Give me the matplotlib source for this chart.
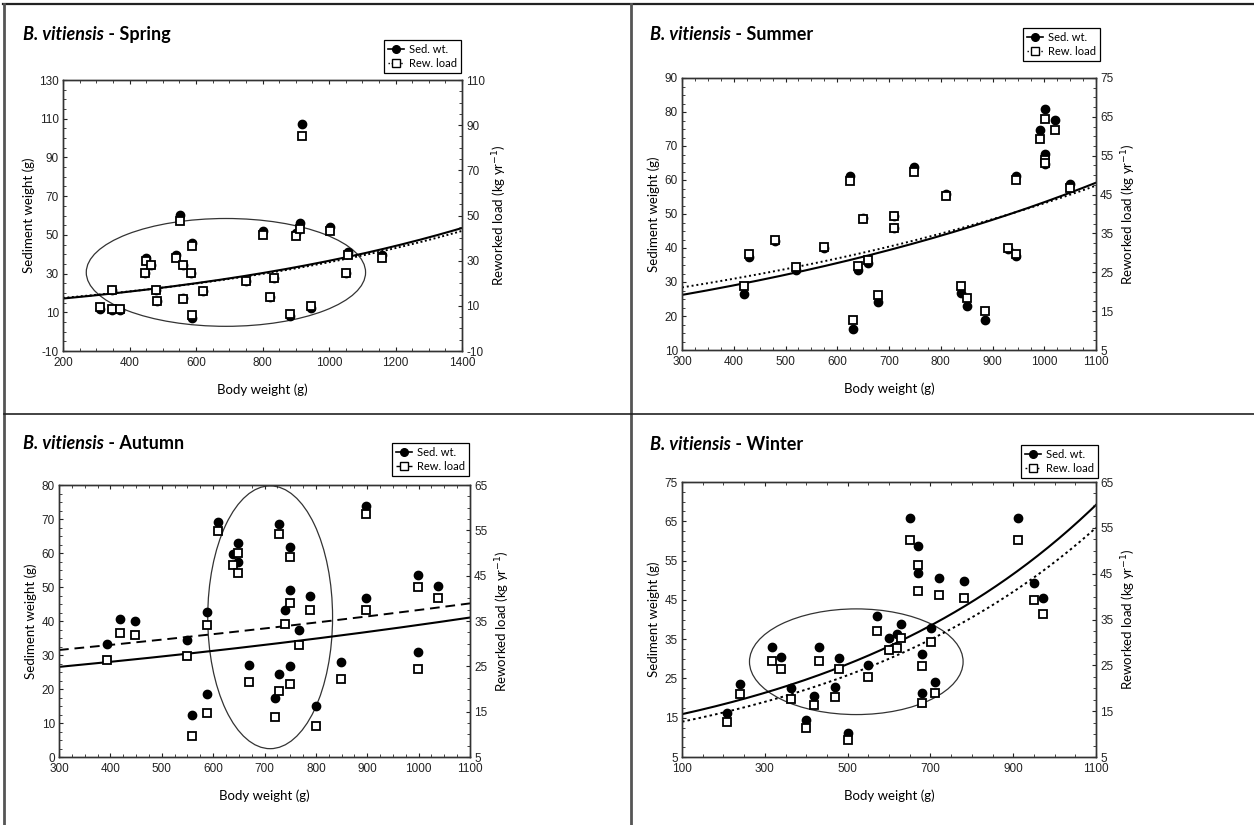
import numpy as np
import matplotlib
matplotlib.use("Agg")
import matplotlib.pyplot as plt
from matplotlib.lines import Line2D
from matplotlib.patches import Ellipse
from matplotlib.ticker import MultipleLocator, FixedLocator

plt.rcParams["font.family"] = ["Liberation Sans", "DejaVu Sans"]
plt.rcParams["axes.unicode_minus"] = False

W, H = 1254, 825
LABEL_FONT = "Lato"

# ---- Spring ----
spring_bw = [312, 348, 346, 370, 446, 451, 466, 481, 484, 541, 551, 561, 561, 586, 589,
             589, 621, 751, 800, 822, 835, 882, 902, 912, 920, 947, 1002, 1050, 1057, 1160]
spring_sed = [11.9, 21.4, 11.4, 11.4, 30.5, 37.8, 34.3, 21.7, 15.9, 39.5, 60.2, 34.3, 17.4, 30.5, 45.9,
              7.2, 21.0, 26.0, 52.1, 17.9, 27.9, 8.1, 51.2, 56.2, 107.2, 12.4, 54.1, 30.3, 40.9, 39.5]
spring_rew = [9.5, 16.9, 8.8, 8.8, 24.7, 29.8, 28.0, 17.2, 12.2, 31.4, 47.6, 28.0, 12.9, 24.7, 36.4,
              5.8, 16.6, 20.9, 41.3, 13.9, 22.5, 6.6, 40.8, 44.2, 85.2, 9.8, 43.1, 24.6, 32.4, 31.4]

# ---- Summer ----
summer_bw = [419, 429, 479, 520, 575, 624, 630, 641, 650, 660, 679, 710, 710, 749,
             810, 839, 850, 886, 930, 945, 945, 991, 1001, 1001, 1001, 1020, 1049]
summer_sed = [26.6, 37.4, 42.1, 33.5, 39.9, 61.1, 16.1, 33.5, 48.7, 35.5, 24.2, 49.4, 45.9, 63.9,
              56.0, 26.8, 22.9, 18.8, 39.6, 37.6, 61.2, 74.6, 80.9, 67.6, 64.8, 77.6, 58.7]
summer_rew = [21.4, 29.8, 33.3, 26.4, 31.6, 48.5, 12.7, 26.7, 38.8, 28.1, 19.1, 39.4, 36.4, 50.8,
              44.6, 21.4, 18.3, 15.0, 31.3, 29.8, 48.7, 59.4, 64.4, 54.0, 53.0, 61.7, 46.6]

# ---- Autumn ----
autumn_bw = [393, 418, 448, 549, 559, 589, 589, 609, 638, 648, 648, 669, 720, 728,
             729, 739, 749, 749, 749, 768, 789, 800, 848, 898, 898, 999, 999, 1038]
autumn_sed = [33.1, 40.7, 40.0, 34.4, 12.3, 42.7, 18.6, 69.2, 59.7, 63.0, 57.4, 27.0, 17.5, 68.4,
              24.5, 43.2, 61.8, 49.1, 26.7, 37.3, 47.3, 14.9, 27.8, 73.8, 46.9, 53.5, 30.9, 50.4]
autumn_rew = [26.3, 32.4, 31.9, 27.2, 9.6, 34.1, 14.7, 54.9, 47.3, 50.1, 45.6, 21.6, 13.8, 54.3,
              19.5, 34.4, 49.2, 39.0, 21.2, 29.7, 37.5, 11.8, 22.1, 58.7, 37.4, 42.5, 24.5, 40.1]

# ---- Winter ----
winter_bw = [208, 239, 318, 339, 364, 399, 419, 430, 470, 480, 500, 550, 571, 600,
             620, 630, 650, 670, 670, 680, 680, 701, 710, 721, 781, 911, 951, 972]
winter_sed = [16.1, 23.7, 32.9, 30.4, 22.5, 14.4, 20.5, 32.9, 22.7, 30.3, 11.1, 28.4, 41.0, 35.4,
              36.3, 38.9, 65.9, 58.8, 51.8, 31.1, 21.2, 37.8, 24.0, 50.6, 49.7, 65.9, 49.3, 45.4]
winter_rew = [12.7, 18.7, 26.0, 24.1, 17.6, 11.4, 16.3, 26.0, 18.0, 24.1, 8.8, 22.5, 32.6, 28.4,
              28.7, 30.9, 52.4, 47.0, 41.3, 24.9, 16.8, 30.2, 19.0, 40.3, 39.7, 52.4, 39.2, 36.2]

# exponential fits y = A * exp(B * x)
spring_fit = {"sed": (14.14, 0.000951), "rew": (11.12, 0.000969)}
summer_fit = {"sed": (19.30, 0.001019), "rew": (15.59, 0.001009)}
autumn_fit = {"sed": (22.50, 0.000546), "rew": (25.49, 0.000384)}
winter_fit = {"sed": (13.73, 0.00147), "rew": (10.97, 0.001466)}

# confidence ellipses (centre x, centre y on sediment axis, width, height)
spring_ellipse = (690, 30.6, 840, 55.7)
autumn_ellipse = (711, 41.1, 243, 77.3)
winter_ellipse = (521, 29.25, 516, 26.9)

panels = [
    dict(season="Spring", bw=spring_bw, sed=spring_sed, rew=spring_rew, fit=spring_fit,
         ellipse=spring_ellipse, box=(63, 80, 462, 351), legend=(387, 40, 461, 78),
         title=(23, 40), xlim=(200, 1400), xstep=200, ylim=(-10, 130), ystep=20,
         rlim=(-10, 110), rstep=20, rew_ls=(0, (1, 1.3))),
    dict(season="Summer", bw=summer_bw, sed=summer_sed, rew=summer_rew, fit=summer_fit,
         ellipse=None, box=(682, 78, 1096, 350), legend=(1008, 28, 1100, 70),
         title=(650, 40), xlim=(300, 1100), xstep=100, ylim=(10, 90), ystep=10,
         rlim=(5, 75), rstep=10, rew_ls=(0, (1, 1.5))),
    dict(season="Autumn", bw=autumn_bw, sed=autumn_sed, rew=autumn_rew, fit=autumn_fit,
         ellipse=autumn_ellipse, box=(59, 485, 470, 757), legend=(389, 443, 469, 482),
         title=(23, 449), xlim=(300, 1100), xstep=100, ylim=(0, 80), ystep=10,
         rlim=(5, 65), rstep=10, rew_ls=(0, (5, 3))),
    dict(season="Winter", bw=winter_bw, sed=winter_sed, rew=winter_rew, fit=winter_fit,
         ellipse=winter_ellipse, box=(682, 482, 1096, 757), legend=(1024, 445, 1098, 481),
         title=(650, 450), xlim=(100, 1100), xstep=200, ylim=(5, 75), ystep=10,
         rlim=(5, 65), rstep=10, rew_ls=(0, (1.3, 1.6))),
]

fig = plt.figure(figsize=(W / 100, H / 100), dpi=100)


def fx(px):
    return px / W


def fy(py):
    return 1 - py / H


def ticks_from(lim, step):
    return FixedLocator(np.arange(lim[0], lim[1] + step / 2, step))


def style_ticks(axis_obj, which_sides):
    axis_obj.tick_params(which="both", direction="in", labelsize=8.5, colors="#222222",
                         **which_sides)
    axis_obj.tick_params(which="major", length=3, width=0.8)
    axis_obj.tick_params(which="minor", length=2, width=0.6)


for p in panels:
    x0, y0, x1, y1 = p["box"]
    ax = fig.add_axes([fx(x0), fy(y1), fx(x1 - x0), (y1 - y0) / H])
    ax2 = ax.twinx()

    xs = np.linspace(p["xlim"][0], p["xlim"][1], 200)
    a, b = p["fit"]["sed"]
    ax.plot(xs, a * np.exp(b * xs), color="black", lw=1.5, zorder=2)
    a, b = p["fit"]["rew"]
    ax2.plot(xs, a * np.exp(b * xs), color="black", lw=1.4, ls=p["rew_ls"], zorder=2)

    ax.plot(p["bw"], p["sed"], "o", color="black", ms=6, zorder=3)
    ax2.plot(p["bw"], p["rew"], "s", mfc="white", mec="black", mew=1.3, ms=6.3, zorder=4)

    if p["ellipse"] is not None:
        cx, cy, ew, eh = p["ellipse"]
        ax.add_patch(Ellipse((cx, cy), ew, eh, fill=False, ec="#333333", lw=0.9, zorder=1))

    ax.set_xlim(*p["xlim"])
    ax.set_ylim(*p["ylim"])
    ax2.set_ylim(*p["rlim"])
    ax.xaxis.set_major_locator(ticks_from(p["xlim"], p["xstep"]))
    ax.xaxis.set_minor_locator(MultipleLocator(p["xstep"] / 4))
    ax.yaxis.set_major_locator(ticks_from(p["ylim"], p["ystep"]))
    ax.yaxis.set_minor_locator(MultipleLocator(p["ystep"] / 4))
    ax2.yaxis.set_major_locator(ticks_from(p["rlim"], p["rstep"]))
    ax2.yaxis.set_minor_locator(MultipleLocator(p["rstep"] / 4))
    style_ticks(ax, dict(top=True, bottom=True, left=True, right=False))
    style_ticks(ax2, dict(right=True, left=False))
    ax.tick_params(axis="x", pad=4)
    ax.tick_params(axis="y", pad=3)
    ax2.tick_params(axis="y", pad=3)
    for a_ in (ax, ax2):
        for s in a_.spines.values():
            s.set_linewidth(1.0)
            s.set_color("#333333")

    ax.set_xlabel("Body weight (g)", fontfamily=LABEL_FONT, fontsize=9.5, labelpad=11)
    ax.set_ylabel("Sediment weight (g)", fontfamily=LABEL_FONT, fontsize=9.5, labelpad=3)
    ax2.set_ylabel("Reworked load (kg yr$^{-1}$)", fontfamily=LABEL_FONT, fontsize=9.5,
                   labelpad=4)

    # legend sits just above the top-right corner of the plot
    lx0, ly0, lx1, ly1 = p["legend"]
    handles = [
        Line2D([], [], color="black", lw=1.2, marker="o", ms=5.5, label="Sed. wt."),
        Line2D([], [], color="black", lw=1.0, ls=p["rew_ls"], marker="s", mfc="white",
               mec="black", ms=5.5, label="Rew. load"),
    ]
    leg = ax2.legend(handles=handles, loc="upper right",
                     bbox_to_anchor=(fx(lx1), fy(ly0)), bbox_transform=fig.transFigure,
                     prop={"family": LABEL_FONT, "size": 8}, fancybox=False,
                     handlelength=1.4, handletextpad=0.5, borderpad=0.35,
                     labelspacing=0.25, borderaxespad=0, framealpha=1)
    leg.get_frame().set_edgecolor("black")
    leg.get_frame().set_linewidth(0.9)

    tx, ty = p["title"]
    t1 = fig.text(fx(tx), fy(ty), "B. vitiensis", fontfamily=LABEL_FONT, fontsize=13,
                  fontweight="bold", fontstyle="italic", va="baseline")
    ax.annotate(" - " + p["season"], xy=(1, 0), xycoords=t1, va="bottom", ha="left",
                fontfamily=LABEL_FONT, fontsize=13, fontweight="bold",
                annotation_clip=False)

# panel frame lines
fig.add_artist(Line2D([fx(3), 1], [fy(4), fy(4)], color="#222222", lw=1.6))
fig.add_artist(Line2D([fx(4), fx(4)], [0, fy(4)], color="#555555", lw=2.0))
fig.add_artist(Line2D([fx(631), fx(631)], [0, fy(4)], color="#555555", lw=2.0))
fig.add_artist(Line2D([fx(4), 1], [fy(414), fy(414)], color="#222222", lw=1.2))

fig.savefig("out.png", dpi=100)
